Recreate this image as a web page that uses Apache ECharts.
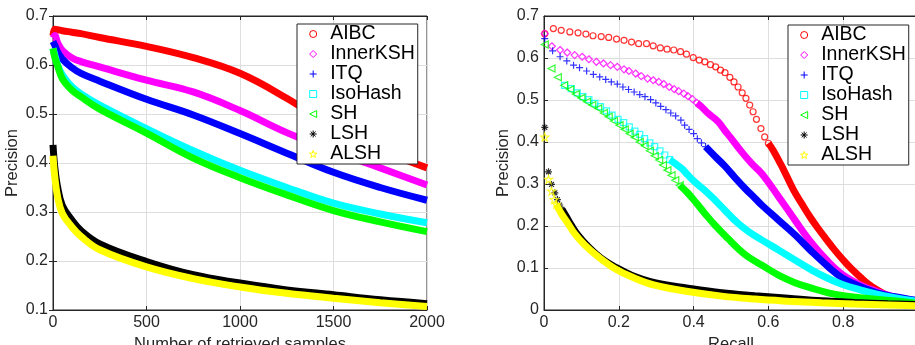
<!DOCTYPE html>
<html>
<head>
<meta charset="utf-8">
<script src="https://cdn.jsdelivr.net/npm/echarts@6/dist/echarts.min.js"></script>
<style>
  html, body { margin: 0; padding: 0; background: #fff; }
  #chart { width: 915px; height: 345px; }
</style>
</head>
<body>
<div id="chart"></div>
<script>
const methods = ['AIBC', 'InnerKSH', 'ITQ', 'IsoHash', 'SH', 'LSH', 'ALSH'];
const colors = ['#ff0000', '#ff00ff', '#0000ff', '#00ffff', '#00ff00', '#000000', '#ffff00'];

// left panel: precision vs number of retrieved samples
const samples = [0, 10, 25, 50, 100, 150, 250, 500, 750, 1000, 1250, 1500, 1750, 2000];
const precAIBC     = [0.660, 0.673, 0.672, 0.670, 0.667, 0.664, 0.656, 0.638, 0.615, 0.583, 0.532, 0.472, 0.427, 0.390];
const precInnerKSH = [0.655, 0.660, 0.645, 0.630, 0.615, 0.607, 0.596, 0.569, 0.545, 0.507, 0.462, 0.424, 0.390, 0.355];
const precITQ      = [0.648, 0.640, 0.626, 0.612, 0.595, 0.583, 0.567, 0.530, 0.498, 0.460, 0.420, 0.381, 0.350, 0.324];
const precIsoHash  = [0.634, 0.620, 0.600, 0.580, 0.556, 0.541, 0.518, 0.470, 0.425, 0.385, 0.350, 0.318, 0.296, 0.278];
const precSH       = [0.634, 0.615, 0.598, 0.572, 0.549, 0.535, 0.510, 0.461, 0.410, 0.370, 0.335, 0.303, 0.280, 0.260];
const precLSH      = [0.437, 0.390, 0.350, 0.313, 0.284, 0.262, 0.235, 0.199, 0.172, 0.155, 0.141, 0.131, 0.121, 0.113];
const precALSH     = [0.415, 0.370, 0.330, 0.297, 0.270, 0.250, 0.223, 0.188, 0.164, 0.147, 0.134, 0.124, 0.115, 0.107];

// right panel: precision-recall, [recall, precision]
// separate markers where they can be told apart, then the dense band
const prMarksAIBC = [[0.002,0.658],[0.025,0.670],[0.046,0.666],[0.069,0.662],[0.091,0.660],[0.112,0.657],[0.131,0.653],
  [0.153,0.651],[0.173,0.649],[0.194,0.645],[0.214,0.642],[0.234,0.638],[0.253,0.634],[0.274,0.634],[0.292,0.629],
  [0.311,0.624],[0.329,0.621],[0.347,0.619],[0.365,0.615],[0.381,0.609],[0.399,0.601],[0.415,0.595],[0.430,0.591],
  [0.445,0.584],[0.459,0.579],[0.472,0.571],[0.484,0.565],[0.497,0.554],[0.508,0.543],[0.519,0.531],[0.530,0.517],
  [0.540,0.504],[0.550,0.488],[0.559,0.472],[0.568,0.454],[0.580,0.432],[0.590,0.412],[0.600,0.397]];
const prBandAIBC = [[0.600,0.397],[0.613,0.380],[0.640,0.335],[0.667,0.286],[0.690,0.252],[0.711,0.222],[0.733,0.194],
  [0.756,0.167],[0.778,0.142],[0.800,0.119],[0.822,0.098],[0.845,0.079],[0.867,0.062],[0.890,0.048],[0.912,0.037],
  [0.934,0.028],[0.960,0.023],[0.988,0.020],[1.000,0.019]];

const prMarksInnerKSH = [[0.002,0.658],[0.021,0.628],[0.043,0.619],[0.062,0.613],[0.082,0.607],[0.102,0.603],[0.120,0.597],
  [0.140,0.591],[0.159,0.587],[0.178,0.583],[0.196,0.579],[0.214,0.573],[0.227,0.569],[0.245,0.563],[0.260,0.557],
  [0.277,0.551],[0.292,0.547],[0.307,0.543],[0.320,0.538],[0.335,0.531],[0.348,0.526],[0.360,0.521],[0.374,0.515],
  [0.385,0.509],[0.397,0.502],[0.409,0.493]];
const prBandInnerKSH = [[0.409,0.493],[0.421,0.484],[0.439,0.468],[0.466,0.448],[0.483,0.428],[0.501,0.408],[0.528,0.377],
  [0.555,0.349],[0.582,0.325],[0.627,0.270],[0.671,0.214],[0.716,0.159],[0.760,0.115],[0.800,0.083],[0.845,0.060],
  [0.890,0.044],[0.934,0.032],[0.988,0.022],[1.000,0.021]];

const prMarksITQ = [[0.002,0.646],[0.023,0.617],[0.043,0.603],[0.061,0.593],[0.079,0.583],[0.095,0.577],[0.114,0.569],
  [0.132,0.561],[0.149,0.555],[0.165,0.549],[0.180,0.543],[0.196,0.538],[0.211,0.531],[0.226,0.525],[0.241,0.519],
  [0.256,0.513],[0.270,0.508],[0.285,0.501],[0.299,0.493],[0.312,0.485],[0.326,0.477],[0.339,0.469],[0.352,0.462],
  [0.366,0.452],[0.376,0.440],[0.388,0.430],[0.400,0.420],[0.410,0.408],[0.421,0.398],[0.432,0.389]];
const prBandITQ = [[0.432,0.389],[0.457,0.366],[0.483,0.343],[0.510,0.316],[0.537,0.290],[0.564,0.266],[0.582,0.250],
  [0.627,0.214],[0.671,0.179],[0.716,0.139],[0.760,0.103],[0.800,0.075],[0.845,0.056],[0.890,0.041],[0.934,0.032],
  [0.988,0.024],[1.000,0.023]];

const prMarksIsoHash = [[0.055,0.535],[0.073,0.527],[0.089,0.517],[0.104,0.508],[0.120,0.501],[0.136,0.492],[0.151,0.484],
  [0.167,0.474],[0.182,0.464],[0.198,0.454],[0.213,0.446],[0.228,0.436],[0.243,0.426],[0.256,0.418],[0.269,0.408],
  [0.283,0.398],[0.296,0.389],[0.310,0.379],[0.323,0.369],[0.336,0.358]];
const prBandIsoHash = [[0.336,0.358],[0.350,0.349],[0.368,0.337],[0.385,0.321],[0.403,0.305],[0.430,0.285],[0.457,0.262],
  [0.483,0.238],[0.519,0.206],[0.550,0.185],[0.582,0.167],[0.627,0.143],[0.671,0.119],[0.716,0.095],[0.760,0.075],
  [0.800,0.060],[0.845,0.048],[0.890,0.038],[0.934,0.030],[0.988,0.022],[1.000,0.021]];

const prMarksSH = [[0.002,0.632],[0.020,0.575],[0.037,0.554],[0.054,0.535],[0.070,0.525],[0.085,0.514],[0.100,0.505],
  [0.115,0.496],[0.129,0.488],[0.145,0.480],[0.160,0.469],[0.173,0.460],[0.187,0.450],[0.202,0.440],[0.216,0.430],
  [0.229,0.420],[0.243,0.411],[0.256,0.400],[0.269,0.391],[0.283,0.379],[0.296,0.367],[0.308,0.357],[0.318,0.345],
  [0.330,0.333],[0.341,0.321],[0.351,0.309],[0.363,0.297]];
const prBandSH = [[0.363,0.297],[0.385,0.278],[0.408,0.254],[0.430,0.230],[0.457,0.202],[0.492,0.170],[0.528,0.139],
  [0.550,0.124],[0.582,0.107],[0.627,0.083],[0.671,0.065],[0.716,0.052],[0.760,0.041],[0.800,0.034],[0.845,0.029],
  [0.934,0.022],[0.988,0.017],[1.000,0.016]];

const prMarksLSH = [[0.002,0.435],[0.012,0.329],[0.020,0.299],[0.029,0.279],[0.036,0.263],[0.042,0.250],[0.048,0.240]];
const prBandLSH = [[0.048,0.240],[0.060,0.222],[0.073,0.202],[0.091,0.178],[0.118,0.151],[0.153,0.123],[0.189,0.103],
  [0.234,0.083],[0.296,0.065],[0.385,0.052],[0.475,0.041],[0.564,0.034],[0.653,0.028],[0.742,0.022],[0.831,0.018],
  [0.920,0.015],[1.000,0.013]];

const prMarksALSH = [[0.002,0.412],[0.012,0.311],[0.020,0.283],[0.027,0.263],[0.033,0.252]];
const prBandALSH = [[0.033,0.252],[0.046,0.230],[0.064,0.206],[0.082,0.182],[0.109,0.155],[0.145,0.127],[0.189,0.099],
  [0.234,0.079],[0.296,0.059],[0.385,0.044],[0.475,0.033],[0.564,0.026],[0.653,0.021],[0.742,0.017],[0.831,0.014],
  [0.920,0.012],[1.000,0.010]];

const leftPrec = [precAIBC, precInnerKSH, precITQ, precIsoHash, precSH, precLSH, precALSH];
const prMarks = [prMarksAIBC, prMarksInnerKSH, prMarksITQ, prMarksIsoHash, prMarksSH, prMarksLSH, prMarksALSH];
const prBands = [prBandAIBC, prBandInnerKSH, prBandITQ, prBandIsoHash, prBandSH, prBandLSH, prBandALSH];

// matlab style markers: o d + s < * p  (paths so the legend keeps their aspect)
const symbols = [
  'circle',
  'path://M5,0L10,5L5,10L0,5Z',
  'path://M5,0L5,10M0,5L10,5',
  'path://M0,0L10,0L10,10L0,10Z',
  'path://M0,5L10,0L10,10Z',
  'path://M5,0L5,10M0,5L10,5M1.5,1.5L8.5,8.5M8.5,1.5L1.5,8.5',
  'path://M5,0L6.18,3.38L9.76,3.45L6.9,5.62L7.94,9.05L5,7L2.06,9.05L3.1,5.62L0.24,3.45L3.82,3.38Z'
];
const symbolSizes = [6, 7, 7, 6, 7, 7, 8];

const FONT = 'Liberation Sans, Arial, Helvetica, sans-serif';
const INK = '#262626';

const series = [];
methods.forEach((name, i) => {
  series.push({
    type: 'line', name, xAxisIndex: 0, yAxisIndex: 0,
    data: samples.map((n, k) => [n, leftPrec[i][k]]),
    symbol: 'none', smooth: 0.4,
    lineStyle: { color: colors[i], width: 7 },
    itemStyle: { color: colors[i] },
  });
});
methods.forEach((name, i) => {
  series.push({
    type: 'line', name, xAxisIndex: 1, yAxisIndex: 1,
    data: prBands[i],
    symbol: 'none', smooth: 0.4,
    lineStyle: { color: colors[i], width: 7 },
    itemStyle: { color: colors[i] },
  });
  series.push({
    type: 'scatter', name, xAxisIndex: 1, yAxisIndex: 1,
    data: prMarks[i],
    symbol: symbols[i], symbolSize: symbolSizes[i],
    itemStyle: { color: 'transparent', borderColor: colors[i], borderWidth: 1.2 },
  });
});

const legendData = methods.map((name, i) => ({
  name,
  icon: symbols[i],
  itemStyle: { color: 'transparent', borderColor: colors[i], borderWidth: 1 },
}));

function makeLegend(left, top) {
  return {
    orient: 'vertical', left, top,
    data: legendData,
    itemWidth: 24, itemHeight: 7, itemGap: 0,
    symbolKeepAspect: true,
    padding: [0, 3, 0, 12],
    backgroundColor: '#fff', borderColor: INK, borderWidth: 1,
    selectedMode: false,
    textStyle: { fontFamily: FONT, fontSize: 19.5, color: '#000', lineHeight: 20 },
  };
}

const tickFmt = v => (Math.abs(v) < 1e-9 ? '0' : String(+v.toFixed(1)));

function valueAxis(extra) {
  return Object.assign({
    type: 'value',
    axisLine: { show: true, lineStyle: { color: INK, width: 1 } },
    axisTick: { show: true, inside: true, length: 4, lineStyle: { color: INK } },
    splitLine: { show: true, lineStyle: { color: '#dedede', width: 1 } },
    axisLabel: { fontFamily: FONT, fontSize: 16, color: INK, margin: 5, formatter: tickFmt },
    nameTextStyle: { fontFamily: FONT, fontSize: 16.5, color: INK },
    nameLocation: 'middle',
  }, extra);
}

// box axes on top / right: ticks only
function mirrorAxis(extra) {
  return Object.assign({
    type: 'value',
    axisLine: { show: true, lineStyle: { color: INK, width: 1 } },
    axisTick: { show: true, inside: true, length: 4, lineStyle: { color: INK } },
    axisLabel: { show: false },
    splitLine: { show: false },
  }, extra);
}

const gridBase = { width: 374, height: 294, top: 16, show: true, borderColor: INK, borderWidth: 1,
  backgroundColor: 'transparent', containLabel: false, outerBoundsMode: 'none' };

const option = {
  animation: false,
  backgroundColor: '#fff',
  grid: [
    Object.assign({ left: 53 }, gridBase),
    Object.assign({ left: 544 }, gridBase),
  ],
  xAxis: [
    valueAxis({ gridIndex: 0, min: 0, max: 2000, interval: 500, name: 'Number of retrieved samples', nameGap: 22,
      axisLabel: { fontFamily: FONT, fontSize: 16, color: INK, margin: 5, formatter: v => String(v) } }),
    valueAxis({ gridIndex: 1, min: 0, max: 1, interval: 0.2, name: 'Recall', nameGap: 22,
      axisLabel: { fontFamily: FONT, fontSize: 16, color: INK, margin: 5, showMaxLabel: false, formatter: tickFmt } }),
    mirrorAxis({ gridIndex: 0, position: 'top', min: 0, max: 2000, interval: 500 }),
    mirrorAxis({ gridIndex: 1, position: 'top', min: 0, max: 1, interval: 0.2 }),
  ],
  yAxis: [
    valueAxis({ gridIndex: 0, min: 0.1, max: 0.7, interval: 0.1, name: 'Precision', nameGap: 32 }),
    valueAxis({ gridIndex: 1, min: 0, max: 0.7, interval: 0.1, name: 'Precision', nameGap: 32 }),
    mirrorAxis({ gridIndex: 0, position: 'right', min: 0.1, max: 0.7, interval: 0.1 }),
  ],
  legend: [makeLegend(297, 24), makeLegend(788, 25)],
  series,
};

const chart = echarts.init(document.getElementById('chart'), null, { renderer: 'canvas' });
chart.setOption(option);
</script>
</body>
</html>
